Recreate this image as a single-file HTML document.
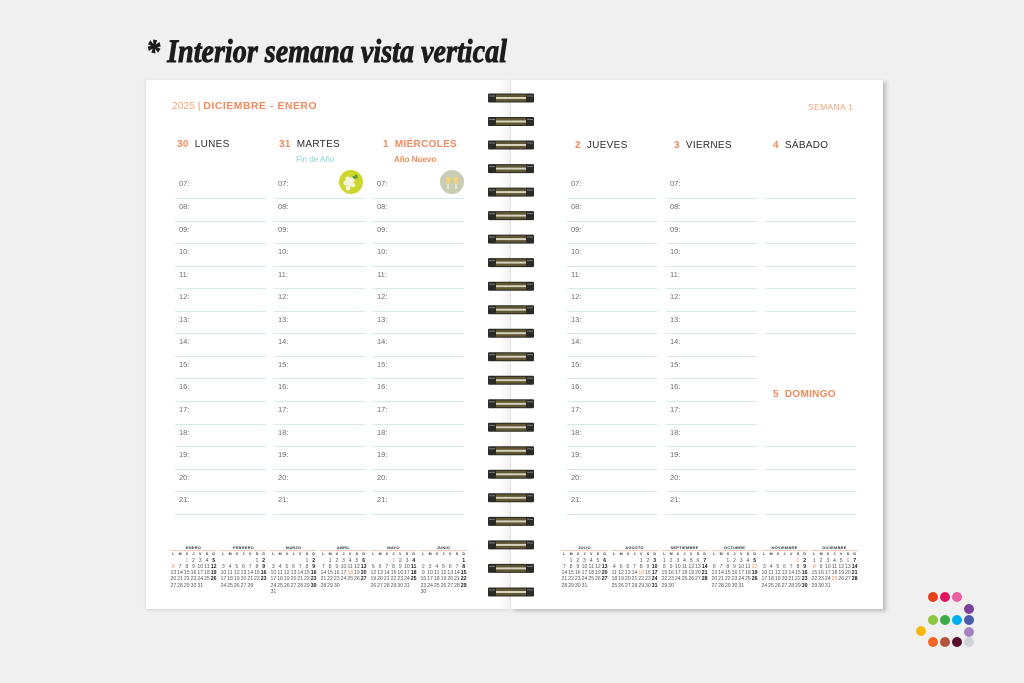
<!DOCTYPE html>
<html><head><meta charset="utf-8">
<style>
*{box-sizing:border-box;margin:0;padding:0}
body{width:1024px;height:683px;background:#f0f0f0;position:relative;overflow:hidden;font-family:"Liberation Sans",sans-serif}
.pg{position:absolute;background:#fff}
.abs{position:absolute;white-space:nowrap}
.hd{font-size:10px;line-height:12px;color:#2d2d2d;letter-spacing:.3px}
.hd b{color:#ef8a5c;font-weight:bold;margin-right:6px}
.col{position:absolute;top:176.43px}
.col div{height:22.57px;border-bottom:1px solid #d5ebe8;font-size:7.5px;line-height:15px;color:#6d6d6d;padding-left:4px}
.m{position:absolute;top:545px;width:47px;display:grid;grid-template-columns:repeat(7,1fr);grid-template-rows:6px 6.5px;grid-auto-rows:6.3px;font-size:5.2px;line-height:6.3px;color:#555;text-align:center}
.m p{grid-column:1/-1;font-weight:bold;font-size:4px;line-height:5px;height:6px;border-bottom:1px solid #f6cdb9;color:#333;letter-spacing:.2px}
.m i{font-style:normal;font-weight:bold;font-size:3.6px;line-height:6.5px;color:#333}
.m u{text-decoration:none}
.m b{color:#222}
.m em{font-style:normal;color:#ef8a5c}
.dot{position:absolute;width:10px;height:10px;border-radius:50%}
</style></head><body>

<svg class="abs" style="left:0;top:0" width="1024" height="80">
<text x="146" y="62" font-family="Liberation Serif, serif" font-weight="bold" font-style="italic" font-size="33" fill="#1c1c1c" stroke="#1c1c1c" stroke-width="0.9" textLength="361" lengthAdjust="spacingAndGlyphs">* Interior semana vista vertical</text>
</svg>

<!-- pages -->
<div class="pg" style="left:146px;top:80px;width:364px;height:529px;box-shadow:0 1px 3px rgba(0,0,0,.12)"></div>
<div class="pg" style="left:510px;top:80px;width:373px;height:529px;box-shadow:3px 2px 4px rgba(0,0,0,.22)"></div>
<div class="abs" style="left:498px;top:80px;width:12px;height:529px;background:linear-gradient(to right,rgba(0,0,0,0),rgba(0,0,0,.05))"></div>
<div class="abs" style="left:510px;top:80px;width:1px;height:529px;background:#e4e4e4"></div>

<!-- header -->
<div class="abs" style="left:172px;top:101px;font-size:10.3px;line-height:12px;color:#f2a27d">2025 <span style="color:#ef8a5c">|</span> <b style="color:#ef8a5c;letter-spacing:.6px">DICIEMBRE - ENERO</b></div>
<div class="abs" style="left:808px;top:102px;font-size:8.6px;line-height:10px;color:#f2a27d;letter-spacing:.3px">SEMANA 1</div>

<!-- day headings -->
<div class="abs hd" style="left:177px;top:139px"><b>30</b>LUNES</div>
<div class="abs hd" style="left:279px;top:139px"><b>31</b>MARTES</div>
<div class="abs hd" style="left:383px;top:139px;color:#ef8a5c;font-weight:bold"><b>1</b>MIÉRCOLES</div>
<div class="abs" style="left:296px;top:155px;font-size:8px;line-height:10px;color:#8fd0cf">Fin de Año</div>
<div class="abs" style="left:394px;top:155px;font-size:8px;line-height:10px;color:#ef8a5c;font-weight:bold">Año Nuevo</div>

<div class="abs hd" style="left:575px;top:140px"><b>2</b>JUEVES</div>
<div class="abs hd" style="left:674px;top:140px"><b>3</b>VIERNES</div>
<div class="abs hd" style="left:773px;top:140px"><b>4</b>SÁBADO</div>
<div class="abs hd" style="left:773px;top:389px;color:#ef8a5c;font-weight:bold"><b>5</b>DOMINGO</div>

<!-- icons -->
<svg class="abs" style="left:339px;top:170px" width="24" height="24">
<circle cx="12" cy="12" r="12" fill="#cdd62c"/>
<g fill="#f4f6e0"><circle cx="9" cy="9" r="2.6"/><circle cx="13" cy="10" r="2.6"/><circle cx="7" cy="13" r="2.6"/><circle cx="11" cy="14" r="2.6"/><circle cx="9" cy="18" r="2.4"/><circle cx="14" cy="15" r="2.2"/></g>
<path d="M13 7 L18 4 L19 8 L15 9 Z" fill="#5c9a3c"/>
</svg>
<svg class="abs" style="left:440px;top:170px" width="24" height="24">
<circle cx="12" cy="12" r="12" fill="#c8ccb3"/>
<path d="M6 7 L11 8 L10 13 Q8 15 6 13 Z" fill="#f3d27a"/>
<path d="M13 8 L18 7 L18 13 Q16 15 14 13 Z" fill="#f3d27a"/>
<path d="M8 14 L8 19 M16 14 L16 19" stroke="#fff" stroke-width="1"/>
</svg>

<!-- hour columns -->
<div class="col" style="left:175px;width:91px"><div>07:</div><div>08:</div><div>09:</div><div>10:</div><div>11:</div><div>12:</div><div>13:</div><div>14:</div><div>15:</div><div>16:</div><div>17:</div><div>18:</div><div>19:</div><div>20:</div><div>21:</div></div>
<div class="col" style="left:274px;width:91px"><div>07:</div><div>08:</div><div>09:</div><div>10:</div><div>11:</div><div>12:</div><div>13:</div><div>14:</div><div>15:</div><div>16:</div><div>17:</div><div>18:</div><div>19:</div><div>20:</div><div>21:</div></div>
<div class="col" style="left:373px;width:91px"><div>07:</div><div>08:</div><div>09:</div><div>10:</div><div>11:</div><div>12:</div><div>13:</div><div>14:</div><div>15:</div><div>16:</div><div>17:</div><div>18:</div><div>19:</div><div>20:</div><div>21:</div></div>
<div class="col" style="left:567px;width:90px"><div>07:</div><div>08:</div><div>09:</div><div>10:</div><div>11:</div><div>12:</div><div>13:</div><div>14:</div><div>15:</div><div>16:</div><div>17:</div><div>18:</div><div>19:</div><div>20:</div><div>21:</div></div>
<div class="col" style="left:666px;width:91px"><div>07:</div><div>08:</div><div>09:</div><div>10:</div><div>11:</div><div>12:</div><div>13:</div><div>14:</div><div>15:</div><div>16:</div><div>17:</div><div>18:</div><div>19:</div><div>20:</div><div>21:</div></div>
<div class="col" style="left:765px;width:91px"><div></div><div></div><div></div><div></div><div></div><div></div><div></div></div>
<div class="col" style="left:765px;width:91px;top:424.7px"><div></div><div></div><div></div><div></div></div>

<!-- spiral -->
<svg class="abs" style="left:480px;top:85px" width="64" height="520">
<defs>
<g id="r">
<rect x="8" y="-4.5" width="46" height="9" rx="1" fill="#2b2a25"/>
<rect x="16" y="-3.5" width="30" height="2.5" fill="#5e5731"/>
<rect x="16" y="1" width="30" height="2.5" fill="#5e5731"/>
<rect x="16" y="-1" width="30" height="2" fill="#d8d4bf"/>
<rect x="9" y="-2.5" width="6" height="1" fill="#7a7a7a"/>
<rect x="47" y="-2.5" width="6" height="1" fill="#7a7a7a"/>
</g>
</defs>
<use href="#r" y="13"/><use href="#r" y="36.5"/><use href="#r" y="60"/><use href="#r" y="83.6"/><use href="#r" y="107.1"/><use href="#r" y="130.6"/><use href="#r" y="154.1"/><use href="#r" y="177.6"/><use href="#r" y="201.2"/><use href="#r" y="224.7"/><use href="#r" y="248.2"/><use href="#r" y="271.7"/><use href="#r" y="295.2"/><use href="#r" y="318.8"/><use href="#r" y="342.3"/><use href="#r" y="365.8"/><use href="#r" y="389.3"/><use href="#r" y="412.8"/><use href="#r" y="436.4"/><use href="#r" y="459.9"/><use href="#r" y="483.4"/><use href="#r" y="507"/>
</svg>

<!-- mini calendars left -->
<div class="m" style="left:170px"><p>ENERO</p><i>L</i><i>M</i><i>X</i><i>J</i><i>V</i><i>S</i><i>D</i>
<em style="grid-column:3">1</em><u>2</u><u>3</u><u>4</u><b>5</b>
<em>6</em><u>7</u><u>8</u><u>9</u><u>10</u><u>11</u><b>12</b>
<u>13</u><u>14</u><u>15</u><u>16</u><u>17</u><u>18</u><b>19</b>
<u>20</u><u>21</u><u>22</u><u>23</u><u>24</u><u>25</u><b>26</b>
<u>27</u><u>28</u><u>29</u><u>30</u><u>31</u></div>

<div class="m" style="left:220px"><p>FEBRERO</p><i>L</i><i>M</i><i>X</i><i>J</i><i>V</i><i>S</i><i>D</i>
<u style="grid-column:6">1</u><b>2</b>
<u>3</u><u>4</u><u>5</u><u>6</u><u>7</u><u>8</u><b>9</b>
<u>10</u><u>11</u><u>12</u><u>13</u><u>14</u><u>15</u><b>16</b>
<u>17</u><u>18</u><u>19</u><u>20</u><u>21</u><u>22</u><b>23</b>
<u>24</u><u>25</u><u>26</u><u>27</u><u>28</u></div>

<div class="m" style="left:270px"><p>MARZO</p><i>L</i><i>M</i><i>X</i><i>J</i><i>V</i><i>S</i><i>D</i>
<u style="grid-column:6">1</u><b>2</b>
<u>3</u><u>4</u><u>5</u><u>6</u><u>7</u><u>8</u><b>9</b>
<u>10</u><u>11</u><u>12</u><u>13</u><u>14</u><u>15</u><b>16</b>
<u>17</u><u>18</u><u>19</u><u>20</u><u>21</u><u>22</u><b>23</b>
<u>24</u><u>25</u><u>26</u><u>27</u><u>28</u><u>29</u><b>30</b>
<u>31</u></div>

<div class="m" style="left:320px"><p>ABRIL</p><i>L</i><i>M</i><i>X</i><i>J</i><i>V</i><i>S</i><i>D</i>
<u style="grid-column:2">1</u><u>2</u><u>3</u><u>4</u><u>5</u><b>6</b>
<u>7</u><u>8</u><u>9</u><u>10</u><u>11</u><u>12</u><b>13</b>
<u>14</u><u>15</u><u>16</u><u>17</u><em>18</em><u>19</u><b>20</b>
<u>21</u><u>22</u><u>23</u><u>24</u><u>25</u><u>26</u><b>27</b>
<u>28</u><u>29</u><u>30</u></div>

<div class="m" style="left:370px"><p>MAYO</p><i>L</i><i>M</i><i>X</i><i>J</i><i>V</i><i>S</i><i>D</i>
<em style="grid-column:4">1</em><u>2</u><u>3</u><b>4</b>
<u>5</u><u>6</u><u>7</u><u>8</u><u>9</u><u>10</u><b>11</b>
<u>12</u><u>13</u><u>14</u><u>15</u><u>16</u><u>17</u><b>18</b>
<u>19</u><u>20</u><u>21</u><u>22</u><u>23</u><u>24</u><b>25</b>
<u>26</u><u>27</u><u>28</u><u>29</u><u>30</u><u>31</u></div>

<div class="m" style="left:420px"><p>JUNIO</p><i>L</i><i>M</i><i>X</i><i>J</i><i>V</i><i>S</i><i>D</i>
<b style="grid-column:7">1</b>
<u>2</u><u>3</u><u>4</u><u>5</u><u>6</u><u>7</u><b>8</b>
<u>9</u><u>10</u><u>11</u><u>12</u><u>13</u><u>14</u><b>15</b>
<u>16</u><u>17</u><u>18</u><u>19</u><u>20</u><u>21</u><b>22</b>
<u>23</u><u>24</u><u>25</u><u>26</u><u>27</u><u>28</u><b>29</b>
<u>30</u></div>

<!-- mini calendars right -->
<div class="m" style="left:561px"><p>JULIO</p><i>L</i><i>M</i><i>X</i><i>J</i><i>V</i><i>S</i><i>D</i>
<u style="grid-column:2">1</u><u>2</u><u>3</u><u>4</u><u>5</u><b>6</b>
<u>7</u><u>8</u><u>9</u><u>10</u><u>11</u><u>12</u><b>13</b>
<u>14</u><u>15</u><u>16</u><u>17</u><u>18</u><u>19</u><b>20</b>
<u>21</u><u>22</u><u>23</u><u>24</u><u>25</u><u>26</u><b>27</b>
<u>28</u><u>29</u><u>30</u><u>31</u></div>

<div class="m" style="left:611px"><p>AGOSTO</p><i>L</i><i>M</i><i>X</i><i>J</i><i>V</i><i>S</i><i>D</i>
<u style="grid-column:5">1</u><u>2</u><b>3</b>
<u>4</u><u>5</u><u>6</u><u>7</u><u>8</u><u>9</u><b>10</b>
<u>11</u><u>12</u><u>13</u><u>14</u><em>15</em><u>16</u><b>17</b>
<u>18</u><u>19</u><u>20</u><u>21</u><u>22</u><u>23</u><b>24</b>
<u>25</u><u>26</u><u>27</u><u>28</u><u>29</u><u>30</u><b>31</b></div>

<div class="m" style="left:661px"><p>SEPTIEMBRE</p><i>L</i><i>M</i><i>X</i><i>J</i><i>V</i><i>S</i><i>D</i>
<u>1</u><u>2</u><u>3</u><u>4</u><u>5</u><u>6</u><b>7</b>
<u>8</u><u>9</u><u>10</u><u>11</u><u>12</u><u>13</u><b>14</b>
<u>15</u><u>16</u><u>17</u><u>18</u><u>19</u><u>20</u><b>21</b>
<u>22</u><u>23</u><u>24</u><u>25</u><u>26</u><u>27</u><b>28</b>
<u>29</u><u>30</u></div>

<div class="m" style="left:711px"><p>OCTUBRE</p><i>L</i><i>M</i><i>X</i><i>J</i><i>V</i><i>S</i><i>D</i>
<u style="grid-column:3">1</u><u>2</u><u>3</u><u>4</u><b>5</b>
<u>6</u><u>7</u><u>8</u><u>9</u><u>10</u><u>11</u><em>12</em>
<u>13</u><u>14</u><u>15</u><u>16</u><u>17</u><u>18</u><b>19</b>
<u>20</u><u>21</u><u>22</u><u>23</u><u>24</u><u>25</u><b>26</b>
<u>27</u><u>28</u><u>29</u><u>30</u><u>31</u></div>

<div class="m" style="left:761px"><p>NOVIEMBRE</p><i>L</i><i>M</i><i>X</i><i>J</i><i>V</i><i>S</i><i>D</i>
<em style="grid-column:6">1</em><b>2</b>
<u>3</u><u>4</u><u>5</u><u>6</u><u>7</u><u>8</u><b>9</b>
<u>10</u><u>11</u><u>12</u><u>13</u><u>14</u><u>15</u><b>16</b>
<u>17</u><u>18</u><u>19</u><u>20</u><u>21</u><u>22</u><b>23</b>
<u>24</u><u>25</u><u>26</u><u>27</u><u>28</u><u>29</u><b>30</b></div>

<div class="m" style="left:811px"><p>DICIEMBRE</p><i>L</i><i>M</i><i>X</i><i>J</i><i>V</i><i>S</i><i>D</i>
<u>1</u><u>2</u><u>3</u><u>4</u><u>5</u><em>6</em><b>7</b>
<em>8</em><u>9</u><u>10</u><u>11</u><u>12</u><u>13</u><b>14</b>
<u>15</u><u>16</u><u>17</u><u>18</u><u>19</u><u>20</u><b>21</b>
<u>22</u><u>23</u><u>24</u><em>25</em><u>26</u><u>27</u><b>28</b>
<u>29</u><u>30</u><u>31</u></div>

<!-- logo dots -->
<div class="dot" style="left:928px;top:592px;background:#e8401c"></div>
<div class="dot" style="left:940px;top:592px;background:#e0155f"></div>
<div class="dot" style="left:952px;top:592px;background:#ec5fa0"></div>
<div class="dot" style="left:964px;top:604px;background:#7b3f9e"></div>
<div class="dot" style="left:928px;top:615px;background:#8dc63f"></div>
<div class="dot" style="left:940px;top:615px;background:#3aaa48"></div>
<div class="dot" style="left:952px;top:615px;background:#00aeef"></div>
<div class="dot" style="left:964px;top:615px;background:#4a5aa8"></div>
<div class="dot" style="left:916px;top:626px;background:#fbb914"></div>
<div class="dot" style="left:964px;top:627px;background:#a783c2"></div>
<div class="dot" style="left:928px;top:637px;background:#f26522"></div>
<div class="dot" style="left:940px;top:637px;background:#b5533c"></div>
<div class="dot" style="left:952px;top:637px;background:#5a0b2e"></div>
<div class="dot" style="left:964px;top:637px;background:#d1d3d4"></div>

</body></html>
